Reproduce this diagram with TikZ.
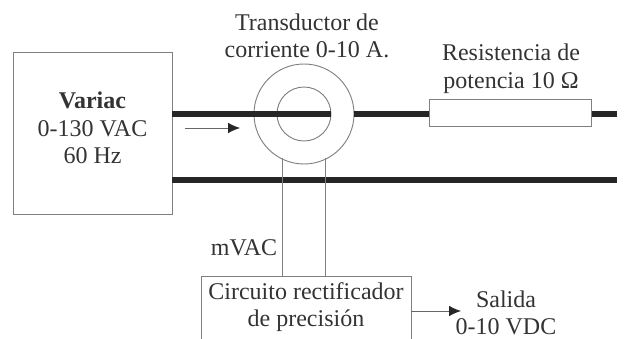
\documentclass[tikz,border=0pt]{standalone}
\usepackage{fontspec}
\setmainfont{Liberation Serif}
\usetikzlibrary{arrows.meta}
\begin{document}
\begin{tikzpicture}[
  x=0.75pt, y=-0.75pt,
  thinbox/.style={draw=black!50, line width=0.75pt, inner sep=0pt, anchor=north west},
  ring/.style={circle, draw=black!50, line width=0.7pt, inner sep=0pt},
  wire/.style={line width=5pt, draw=black!85},
  lead/.style={draw=black!50, line width=0.75pt},
  flow/.style={draw=black!60, line width=0.75pt, -{Latex[length=9pt,width=8pt,black!85]}},
  label/.style={inner sep=0pt, align=center, text=black!80, font=\fontsize{18}{20.7}\selectfont}
]
  \clip (0,0) rectangle (629,339);

  % Blocks
  \node[thinbox, minimum width=119pt, minimum height=121.5pt] (variac) at (13,52) {};
  \node[thinbox, minimum width=121.5pt, minimum height=20.5pt] (res) at (429,99) {};
  \node[thinbox, minimum width=157.5pt, minimum height=60pt] (rect) at (201,276) {};

  % Transducer rings
  \node[ring, minimum size=75pt] (outer) at (304,114) {};
  \node[ring, minimum size=40.5pt] (inner) at (304,114) {};

  % Free wire ends
  \coordinate (w1) at (172,114);
  \coordinate (w2) at (172,180);
  \coordinate (e1) at (617,114);
  \coordinate (e2) at (617,180);

  % Thick wires
  \draw[wire] (w1) -- (inner.east);
  \draw[wire] (outer.east) -- (outer.east -| res.west);
  \draw[wire] (e1 -| res.east) -- (e1);
  \draw[wire] (w2) -- (e2);

  % Leads down to the rectifier
  \coordinate (l1) at (282,158);
  \coordinate (l2) at (325,158);
  \coordinate (b1) at (282,276);
  \coordinate (b2) at (325,276);
  \draw[lead] (l1) -- (b1);
  \draw[lead] (l2) -- (b2);

  % Arrows
  \coordinate (a1) at (185,128);
  \coordinate (a2) at (240,128);
  \draw[flow] (a1) -- (a2);
  \coordinate (r1) at (411,311);
  \coordinate (r2) at (461,311);
  \draw[flow] (r1) -- (r2);

  % Texts
  \node[label] (tvariac) at (92.5,128) {\textbf{Variac}\\0-130 VAC\\60 Hz};
  \node[label] (ttrans) at (307,36) {Transductor de\\corriente 0-10 A.};
  \node[label] (tres) at (511,69) {Resistencia de\\potencia 10 Ω};
  \node[label] (tmvac) at (244,248) {mVAC};
  \node[label] (trect) at (306,307) {Circuito rectificador\\de precisión};
  \node[label] (tout) at (506,313) {Salida\\0-10 VDC};
\end{tikzpicture}
\end{document}
